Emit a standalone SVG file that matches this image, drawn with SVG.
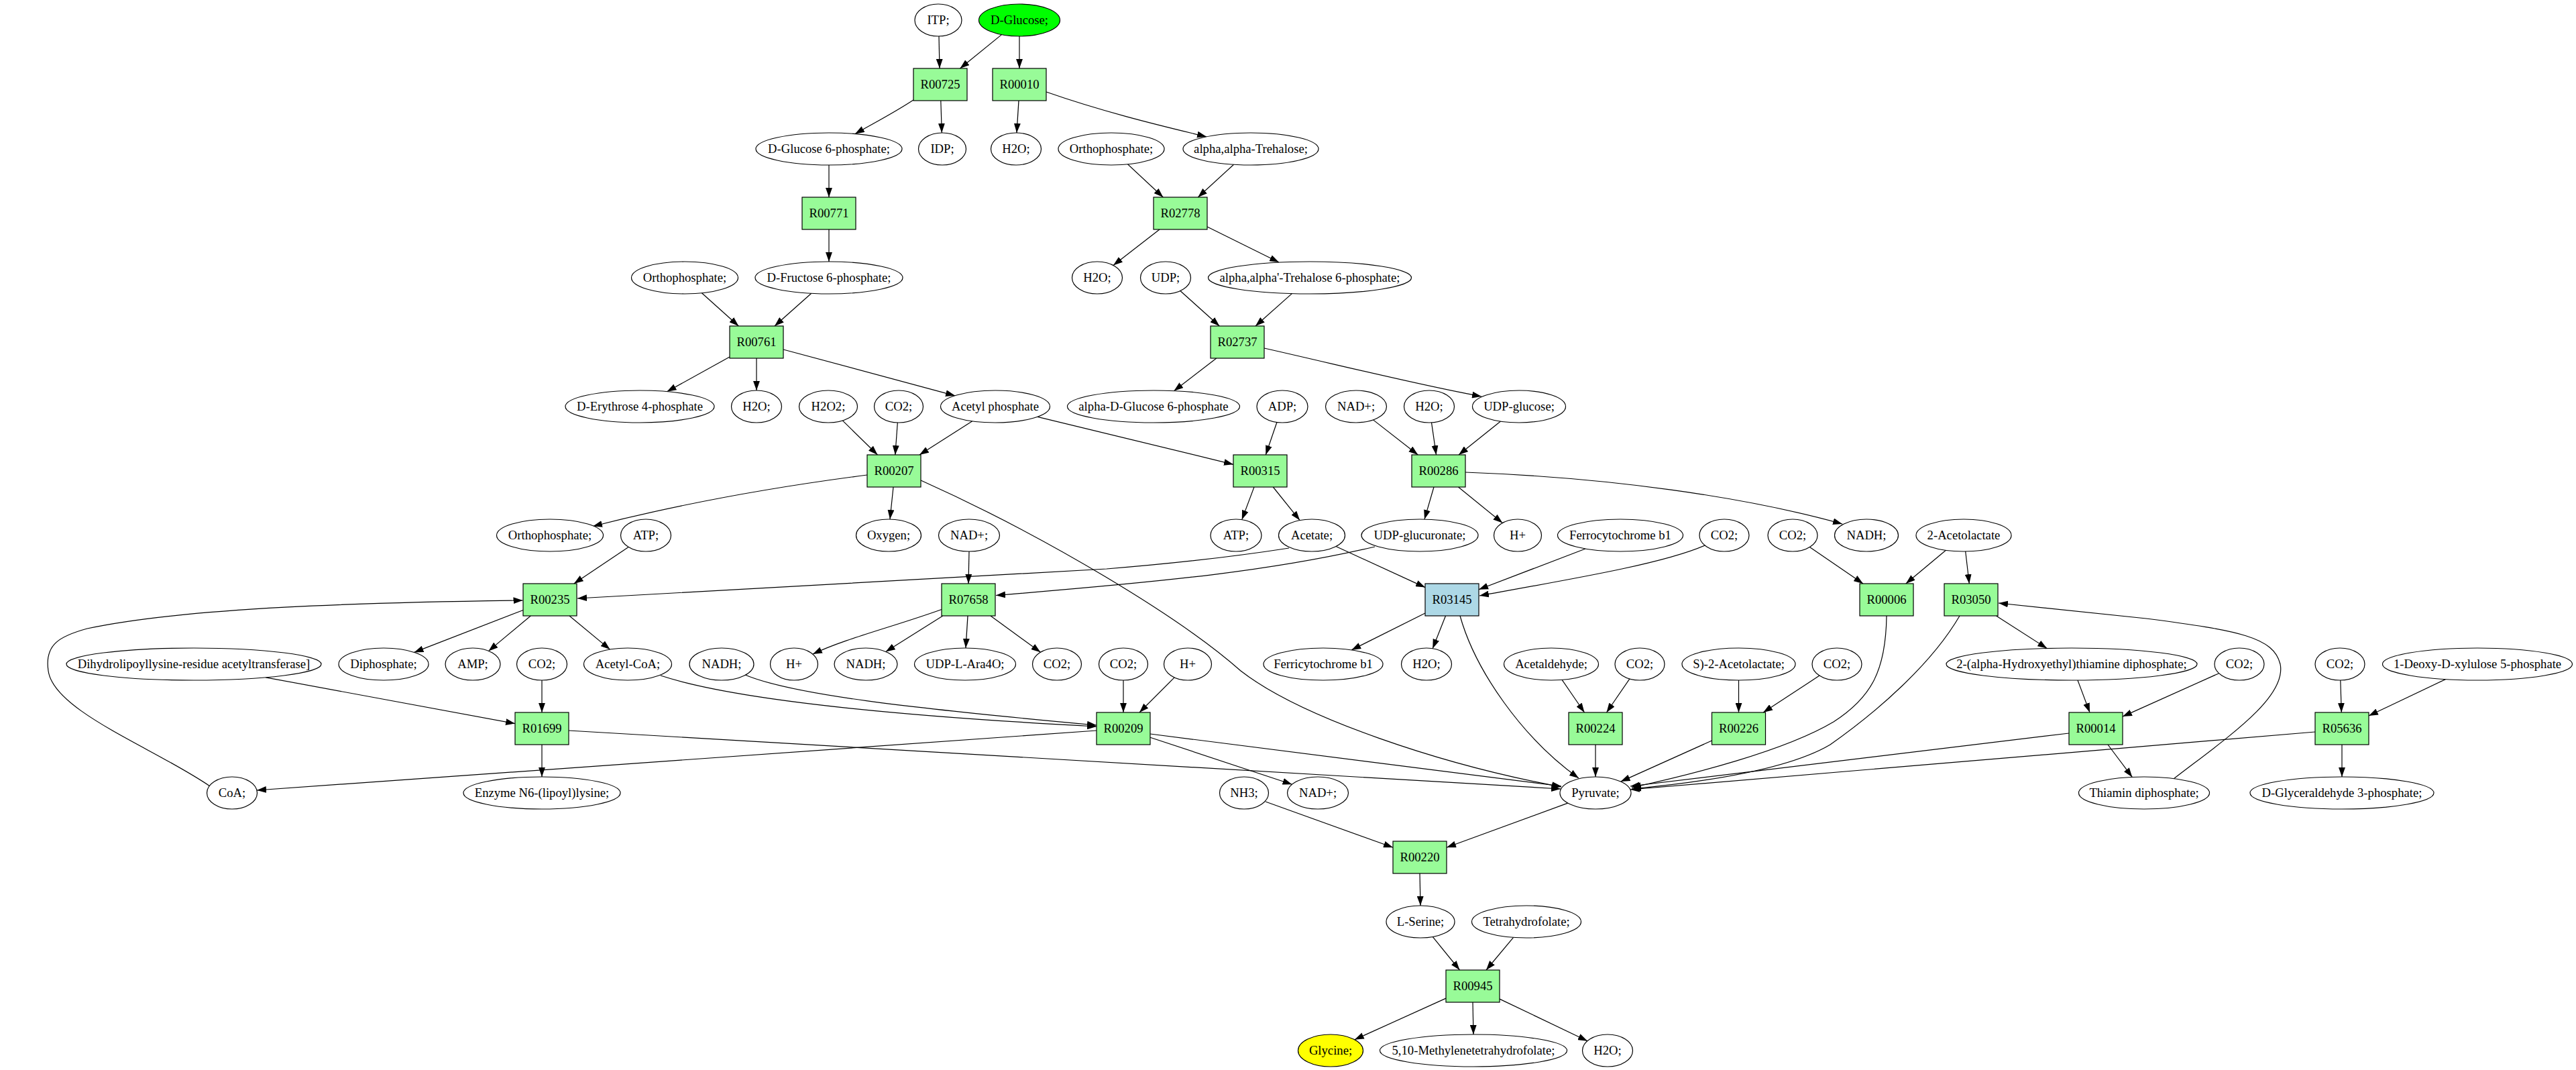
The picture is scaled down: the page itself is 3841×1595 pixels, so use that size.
<svg xmlns="http://www.w3.org/2000/svg" width="3841" height="1595" viewBox="0 0 3841 1595">
<defs>
<marker id="arr" markerUnits="userSpaceOnUse" markerWidth="14" markerHeight="10" viewBox="0 0 13.3 9.4" refX="13.3" refY="4.7" orient="auto">
<path d="M0,0 L13.3,4.7 L0,9.4 z" fill="#000"/>
</marker>
<style>
.e{fill:none;stroke:#000;stroke-width:1.2;marker-end:url(#arr)}
.nd{stroke:#000;stroke-width:1.2}
.c{fill:#fff}
.r{fill:#98fb98}
.b{fill:#add8e6}
text{font-family:"Liberation Serif","Times New Roman",serif;font-size:18.67px;text-anchor:middle;fill:#000}
</style>
</defs>
<rect x="0" y="0" width="3841" height="1595" fill="#fff" stroke="none"/>
<g id="connectors">
<path class="e" d="M1400,54 L1401,102"/>
<path class="e" d="M1493.5,51.6 L1431.5,102"/>
<path class="e" d="M1520,54 L1520,102"/>
<path class="e" d="M1362,149 C1330,170 1300,185 1275,199.6"/>
<path class="e" d="M1402.8,150 L1404.3,198"/>
<path class="e" d="M1519,150 L1516,198"/>
<path class="e" d="M1560,137 C1640,165 1720,185 1799,203.8"/>
<path class="e" d="M1236,246 L1236,294"/>
<path class="e" d="M1681.5,244.8 L1734.3,294"/>
<path class="e" d="M1839.6,245.2 L1786.3,294"/>
<path class="e" d="M1236,342 L1236,390"/>
<path class="e" d="M1729,342 L1660,395.5"/>
<path class="e" d="M1800,338 L1907,391"/>
<path class="e" d="M1046.4,436.8 L1101.3,486"/>
<path class="e" d="M1209.8,437.3 L1155,486"/>
<path class="e" d="M1759.8,433.5 L1818.3,486"/>
<path class="e" d="M1926.4,437.6 L1872,486"/>
<path class="e" d="M1088,532 L994.5,583.7"/>
<path class="e" d="M1128,534 L1128,582"/>
<path class="e" d="M1168,521 L1424,589.8"/>
<path class="e" d="M1813.8,534 L1750.4,582.7"/>
<path class="e" d="M1885,519 C2000,545 2120,575 2209,591"/>
<path class="e" d="M1256.3,626.9 L1308.5,678"/>
<path class="e" d="M1338.3,630 L1334.8,678"/>
<path class="e" d="M1449.8,627.8 L1371,678"/>
<path class="e" d="M1547,621.3 L1839,692.3"/>
<path class="e" d="M1903.9,629.5 L1887.3,678"/>
<path class="e" d="M2047.5,625.9 L2114.3,678"/>
<path class="e" d="M2134.5,629.9 L2141.5,678"/>
<path class="e" d="M2237.5,628 L2175,678"/>
<path class="e" d="M1293,708 C1200,720 1050,742 884,784.5"/>
<path class="e" d="M1332,726 L1327,774"/>
<path class="e" d="M1373,716 C1560,800 1760,920 1850,1000 C1940,1070 2150,1140 2328,1173"/>
<path class="e" d="M1870,726 L1851.8,774.6"/>
<path class="e" d="M1898.3,726 L1938.1,775.6"/>
<path class="e" d="M2138,726 L2124,774.1"/>
<path class="e" d="M2174.5,726 L2240.3,779.5"/>
<path class="e" d="M2185,704 C2400,712 2600,740 2747,781"/>
<path class="e" d="M937.1,815.4 L855.8,870"/>
<path class="e" d="M1922,817 Q1800,836 1650,848 L861,892"/>
<path class="e" d="M1992,814.5 L2125,875.6"/>
<path class="e" d="M1445,822 L1444,870"/>
<path class="e" d="M2050,815 C1900,850 1750,866 1485,887.5"/>
<path class="e" d="M2364,818 L2205,878.7"/>
<path class="e" d="M2542,813 C2480,840 2350,862 2206,888"/>
<path class="e" d="M2698.4,815.4 L2778,870"/>
<path class="e" d="M2901.4,820.2 L2841.8,870"/>
<path class="e" d="M2930.7,822 L2936.3,870"/>
<path class="e" d="M313,1172 C230,1115 80,1060 72,1000 C66,960 90,948 130,937 C280,905 550,898 779.5,895"/>
<path class="e" d="M780,909.5 L617.5,972.4"/>
<path class="e" d="M791.3,918 L728.5,970.4"/>
<path class="e" d="M849,918 L909.5,968.1"/>
<path class="e" d="M1404,908.5 C1330,935 1260,952 1212,975"/>
<path class="e" d="M1405.8,918 L1320.7,971.4"/>
<path class="e" d="M1443,918 L1440,966"/>
<path class="e" d="M1477,918 L1551.5,972.2"/>
<path class="e" d="M2125,914 L2015.2,968.9"/>
<path class="e" d="M2155.5,918 L2136.2,966.7"/>
<path class="e" d="M2177,918 C2200,1000 2270,1100 2354,1160"/>
<path class="e" d="M2813,918 C2812,1000 2790,1040 2734,1076 C2660,1120 2520,1155 2433,1174"/>
<path class="e" d="M2922,918 C2880,990 2800,1060 2729,1110 C2670,1145 2550,1165 2433,1176"/>
<path class="e" d="M2976.5,918 L3052.2,966.5"/>
<path class="e" d="M396.2,1009.8 L768,1078.6"/>
<path class="e" d="M808,1014 L808,1062"/>
<path class="e" d="M985,1007 C1100,1045 1350,1068 1635,1083"/>
<path class="e" d="M1111,1006 C1180,1035 1350,1055 1635,1081"/>
<path class="e" d="M1675,1014 L1675,1062"/>
<path class="e" d="M1751.1,1009.9 L1699,1062"/>
<path class="e" d="M2329.1,1013.4 L2362.5,1062"/>
<path class="e" d="M2429.9,1011.9 L2395.5,1062"/>
<path class="e" d="M2592.5,1014 L2592.5,1062"/>
<path class="e" d="M2713,1007.1 L2629.1,1062"/>
<path class="e" d="M3098,1014 L3116,1062"/>
<path class="e" d="M3308.6,1003.7 L3165,1068.1"/>
<path class="e" d="M3489.8,1014 L3491.3,1062"/>
<path class="e" d="M3646.4,1012.6 L3532,1067"/>
<path class="e" d="M808,1110 L808,1158"/>
<path class="e" d="M848,1089 L2327,1176"/>
<path class="e" d="M1635,1089 L383,1178"/>
<path class="e" d="M1715,1099.2 L1926.5,1169.2"/>
<path class="e" d="M1715,1094 L2328,1172"/>
<path class="e" d="M2379,1110 L2379,1158"/>
<path class="e" d="M2552.5,1104 L2416.6,1165.1"/>
<path class="e" d="M3085,1093 L2431,1172"/>
<path class="e" d="M3143,1110 L3179.3,1158.4"/>
<path class="e" d="M3241,1161 C3320,1100 3410,1040 3400,990 C3390,950 3340,940 3200,922 L2980,899"/>
<path class="e" d="M3452,1091 L2431,1177"/>
<path class="e" d="M3492,1110 L3492,1158"/>
<path class="e" d="M1887,1195 L2077,1263.3"/>
<path class="e" d="M2337.8,1197.1 L2157,1263.3"/>
<path class="e" d="M2117,1302 L2118,1350"/>
<path class="e" d="M2136.2,1396.4 L2176.5,1446"/>
<path class="e" d="M2256.6,1397.3 L2216,1446"/>
<path class="e" d="M2156,1488.1 L2019.8,1549.8"/>
<path class="e" d="M2196,1494 L2197,1542"/>
<path class="e" d="M2236,1489.1 L2367,1551.7"/>
</g>
<g id="c_itp"><ellipse class="nd c" cx="1399" cy="30" rx="35" ry="24"/><text x="1399" y="36">ITP;</text></g>
<g id="c_dglucose"><ellipse class="nd" cx="1520" cy="30" rx="60.5" ry="24" fill="#00ff00"/><text x="1520" y="36">D-Glucose;</text></g>
<g id="r_R00725"><rect class="nd r" x="1362" y="102" width="80" height="48"/><text x="1402" y="132">R00725</text></g>
<g id="r_R00010"><rect class="nd r" x="1480" y="102" width="80" height="48"/><text x="1520" y="132">R00010</text></g>
<g id="c_dglc6p"><ellipse class="nd c" cx="1236" cy="222" rx="109" ry="24"/><text x="1236" y="228">D-Glucose 6-phosphate;</text></g>
<g id="c_idp"><ellipse class="nd c" cx="1405" cy="222" rx="35.5" ry="24"/><text x="1405" y="228">IDP;</text></g>
<g id="c_h2o_1"><ellipse class="nd c" cx="1515" cy="222" rx="37.5" ry="24"/><text x="1515" y="228">H2O;</text></g>
<g id="c_orthop_1"><ellipse class="nd c" cx="1657" cy="222" rx="79" ry="24"/><text x="1657" y="228">Orthophosphate;</text></g>
<g id="c_trehalose"><ellipse class="nd c" cx="1865" cy="222" rx="101" ry="24"/><text x="1865" y="228">alpha,alpha-Trehalose;</text></g>
<g id="r_R00771"><rect class="nd r" x="1196" y="294" width="80" height="48"/><text x="1236" y="324">R00771</text></g>
<g id="r_R02778"><rect class="nd r" x="1720" y="294" width="80" height="48"/><text x="1760" y="324">R02778</text></g>
<g id="c_orthop_2"><ellipse class="nd c" cx="1021" cy="414" rx="79.5" ry="24"/><text x="1021" y="420">Orthophosphate;</text></g>
<g id="c_dfru6p"><ellipse class="nd c" cx="1236" cy="414" rx="110" ry="24"/><text x="1236" y="420">D-Fructose 6-phosphate;</text></g>
<g id="c_h2o_2"><ellipse class="nd c" cx="1636" cy="414" rx="37.5" ry="24"/><text x="1636" y="420">H2O;</text></g>
<g id="c_udp"><ellipse class="nd c" cx="1738" cy="414" rx="37.5" ry="24"/><text x="1738" y="420">UDP;</text></g>
<g id="c_trehalose6p"><ellipse class="nd c" cx="1953" cy="414" rx="151.5" ry="24"/><text x="1953" y="420">alpha,alpha'-Trehalose 6-phosphate;</text></g>
<g id="r_R00761"><rect class="nd r" x="1088" y="486" width="80" height="48"/><text x="1128" y="516">R00761</text></g>
<g id="r_R02737"><rect class="nd r" x="1805" y="486" width="80" height="48"/><text x="1845" y="516">R02737</text></g>
<g id="c_derythrose4p"><ellipse class="nd c" cx="954" cy="606" rx="111" ry="24"/><text x="954" y="612">D-Erythrose 4-phosphate</text></g>
<g id="c_h2o_3"><ellipse class="nd c" cx="1128" cy="606" rx="37.5" ry="24"/><text x="1128" y="612">H2O;</text></g>
<g id="c_h2o2"><ellipse class="nd c" cx="1235" cy="606" rx="43.5" ry="24"/><text x="1235" y="612">H2O2;</text></g>
<g id="c_co2_1"><ellipse class="nd c" cx="1340" cy="606" rx="36.5" ry="24"/><text x="1340" y="612">CO2;</text></g>
<g id="c_acetylp"><ellipse class="nd c" cx="1484" cy="606" rx="81.5" ry="24"/><text x="1484" y="612">Acetyl phosphate</text></g>
<g id="c_adglc6p"><ellipse class="nd c" cx="1720" cy="606" rx="128.5" ry="24"/><text x="1720" y="612">alpha-D-Glucose 6-phosphate</text></g>
<g id="c_adp"><ellipse class="nd c" cx="1912" cy="606" rx="38" ry="24"/><text x="1912" y="612">ADP;</text></g>
<g id="c_nad_1"><ellipse class="nd c" cx="2022" cy="606" rx="45.5" ry="24"/><text x="2022" y="612">NAD+;</text></g>
<g id="c_h2o_4"><ellipse class="nd c" cx="2131" cy="606" rx="37.5" ry="24"/><text x="2131" y="612">H2O;</text></g>
<g id="c_udpglucose"><ellipse class="nd c" cx="2265" cy="606" rx="69.5" ry="24"/><text x="2265" y="612">UDP-glucose;</text></g>
<g id="r_R00207"><rect class="nd r" x="1293" y="678" width="80" height="48"/><text x="1333" y="708">R00207</text></g>
<g id="r_R00315"><rect class="nd r" x="1839" y="678" width="80" height="48"/><text x="1879" y="708">R00315</text></g>
<g id="r_R00286"><rect class="nd r" x="2105" y="678" width="80" height="48"/><text x="2145" y="708">R00286</text></g>
<g id="c_orthop_3"><ellipse class="nd c" cx="820" cy="798" rx="79.5" ry="24"/><text x="820" y="804">Orthophosphate;</text></g>
<g id="c_atp_1"><ellipse class="nd c" cx="963" cy="798" rx="37.5" ry="24"/><text x="963" y="804">ATP;</text></g>
<g id="c_oxygen"><ellipse class="nd c" cx="1325" cy="798" rx="48.5" ry="24"/><text x="1325" y="804">Oxygen;</text></g>
<g id="c_nad_2"><ellipse class="nd c" cx="1445" cy="798" rx="45.5" ry="24"/><text x="1445" y="804">NAD+;</text></g>
<g id="c_atp_2"><ellipse class="nd c" cx="1843" cy="798" rx="38" ry="24"/><text x="1843" y="804">ATP;</text></g>
<g id="c_acetate"><ellipse class="nd c" cx="1956" cy="798" rx="49.5" ry="24"/><text x="1956" y="804">Acetate;</text></g>
<g id="c_udpglucuronate"><ellipse class="nd c" cx="2117" cy="798" rx="87" ry="24"/><text x="2117" y="804">UDP-glucuronate;</text></g>
<g id="c_hplus_1"><ellipse class="nd c" cx="2263" cy="798" rx="35.5" ry="24"/><text x="2263" y="804">H+</text></g>
<g id="c_ferrocyt"><ellipse class="nd c" cx="2416" cy="798" rx="93.5" ry="24"/><text x="2416" y="804">Ferrocytochrome b1</text></g>
<g id="c_co2_2"><ellipse class="nd c" cx="2571" cy="798" rx="37" ry="24"/><text x="2571" y="804">CO2;</text></g>
<g id="c_co2_3"><ellipse class="nd c" cx="2673" cy="798" rx="37" ry="24"/><text x="2673" y="804">CO2;</text></g>
<g id="c_nadh_1"><ellipse class="nd c" cx="2783" cy="798" rx="47.5" ry="24"/><text x="2783" y="804">NADH;</text></g>
<g id="c_acetolactate"><ellipse class="nd c" cx="2928" cy="798" rx="71" ry="24"/><text x="2928" y="804">2-Acetolactate</text></g>
<g id="r_R00235"><rect class="nd r" x="780" y="870" width="80" height="48"/><text x="820" y="900">R00235</text></g>
<g id="r_R07658"><rect class="nd r" x="1404" y="870" width="80" height="48"/><text x="1444" y="900">R07658</text></g>
<g id="r_R03145"><rect class="nd b" x="2125" y="870" width="80" height="48"/><text x="2165" y="900">R03145</text></g>
<g id="r_R00006"><rect class="nd r" x="2773" y="870" width="80" height="48"/><text x="2813" y="900">R00006</text></g>
<g id="r_R03050"><rect class="nd r" x="2899" y="870" width="80" height="48"/><text x="2939" y="900">R03050</text></g>
<g id="c_dihydro"><ellipse class="nd c" cx="289" cy="990" rx="190" ry="24"/><text x="289" y="996">Dihydrolipoyllysine-residue acetyltransferase]</text></g>
<g id="c_diphosphate"><ellipse class="nd c" cx="572" cy="990" rx="67" ry="24"/><text x="572" y="996">Diphosphate;</text></g>
<g id="c_amp"><ellipse class="nd c" cx="705" cy="990" rx="41" ry="24"/><text x="705" y="996">AMP;</text></g>
<g id="c_co2_4"><ellipse class="nd c" cx="808" cy="990" rx="37.5" ry="24"/><text x="808" y="996">CO2;</text></g>
<g id="c_acetylcoa"><ellipse class="nd c" cx="936" cy="990" rx="65.5" ry="24"/><text x="936" y="996">Acetyl-CoA;</text></g>
<g id="c_nadh_2"><ellipse class="nd c" cx="1076" cy="990" rx="48" ry="24"/><text x="1076" y="996">NADH;</text></g>
<g id="c_hplus_2"><ellipse class="nd c" cx="1184" cy="990" rx="35.5" ry="24"/><text x="1184" y="996">H+</text></g>
<g id="c_nadh_3"><ellipse class="nd c" cx="1291" cy="990" rx="47" ry="24"/><text x="1291" y="996">NADH;</text></g>
<g id="c_udplara4o"><ellipse class="nd c" cx="1439" cy="990" rx="75.5" ry="24"/><text x="1439" y="996">UDP-L-Ara4O;</text></g>
<g id="c_co2_5"><ellipse class="nd c" cx="1576" cy="990" rx="36.5" ry="24"/><text x="1576" y="996">CO2;</text></g>
<g id="c_co2_6"><ellipse class="nd c" cx="1675" cy="990" rx="36.5" ry="24"/><text x="1675" y="996">CO2;</text></g>
<g id="c_hplus_3"><ellipse class="nd c" cx="1771" cy="990" rx="35.5" ry="24"/><text x="1771" y="996">H+</text></g>
<g id="c_ferricyt"><ellipse class="nd c" cx="1973" cy="990" rx="89" ry="24"/><text x="1973" y="996">Ferricytochrome b1</text></g>
<g id="c_h2o_5"><ellipse class="nd c" cx="2127" cy="990" rx="37.5" ry="24"/><text x="2127" y="996">H2O;</text></g>
<g id="c_acetaldehyde"><ellipse class="nd c" cx="2313" cy="990" rx="70.5" ry="24"/><text x="2313" y="996">Acetaldehyde;</text></g>
<g id="c_co2_7"><ellipse class="nd c" cx="2445" cy="990" rx="37" ry="24"/><text x="2445" y="996">CO2;</text></g>
<g id="c_sacetolactate"><ellipse class="nd c" cx="2592.5" cy="990" rx="84.5" ry="24"/><text x="2592.5" y="996">S)-2-Acetolactate;</text></g>
<g id="c_co2_8"><ellipse class="nd c" cx="2739" cy="990" rx="37" ry="24"/><text x="2739" y="996">CO2;</text></g>
<g id="c_hethtpp"><ellipse class="nd c" cx="3089" cy="990" rx="187" ry="24"/><text x="3089" y="996">2-(alpha-Hydroxyethyl)thiamine diphosphate;</text></g>
<g id="c_co2_9"><ellipse class="nd c" cx="3339" cy="990" rx="37" ry="24"/><text x="3339" y="996">CO2;</text></g>
<g id="c_co2_10"><ellipse class="nd c" cx="3489" cy="990" rx="37" ry="24"/><text x="3489" y="996">CO2;</text></g>
<g id="c_dxp"><ellipse class="nd c" cx="3694" cy="990" rx="141.5" ry="24"/><text x="3694" y="996">1-Deoxy-D-xylulose 5-phosphate</text></g>
<g id="r_R01699"><rect class="nd r" x="768" y="1062" width="80" height="48"/><text x="808" y="1092">R01699</text></g>
<g id="r_R00209"><rect class="nd r" x="1635" y="1062" width="80" height="48"/><text x="1675" y="1092">R00209</text></g>
<g id="r_R00224"><rect class="nd r" x="2339" y="1062" width="80" height="48"/><text x="2379" y="1092">R00224</text></g>
<g id="r_R00226"><rect class="nd r" x="2552.5" y="1062" width="80" height="48"/><text x="2592.5" y="1092">R00226</text></g>
<g id="r_R00014"><rect class="nd r" x="3085" y="1062" width="80" height="48"/><text x="3125" y="1092">R00014</text></g>
<g id="r_R05636"><rect class="nd r" x="3452" y="1062" width="80" height="48"/><text x="3492" y="1092">R05636</text></g>
<g id="c_coa"><ellipse class="nd c" cx="346" cy="1182" rx="37.5" ry="24"/><text x="346" y="1188">CoA;</text></g>
<g id="c_lipoyllysine"><ellipse class="nd c" cx="808" cy="1182" rx="117" ry="24"/><text x="808" y="1188">Enzyme N6-(lipoyl)lysine;</text></g>
<g id="c_nh3"><ellipse class="nd c" cx="1855" cy="1182" rx="36.5" ry="24"/><text x="1855" y="1188">NH3;</text></g>
<g id="c_nad_3"><ellipse class="nd c" cx="1965" cy="1182" rx="45.5" ry="24"/><text x="1965" y="1188">NAD+;</text></g>
<g id="c_pyruvate"><ellipse class="nd c" cx="2379" cy="1182" rx="53" ry="24"/><text x="2379" y="1188">Pyruvate;</text></g>
<g id="c_thiamin"><ellipse class="nd c" cx="3197" cy="1182" rx="97.5" ry="24"/><text x="3197" y="1188">Thiamin diphosphate;</text></g>
<g id="c_gap"><ellipse class="nd c" cx="3492" cy="1182" rx="137" ry="24"/><text x="3492" y="1188">D-Glyceraldehyde 3-phosphate;</text></g>
<g id="r_R00220"><rect class="nd r" x="2077" y="1254" width="80" height="48"/><text x="2117" y="1284">R00220</text></g>
<g id="c_serine"><ellipse class="nd c" cx="2118" cy="1374" rx="51" ry="24"/><text x="2118" y="1380">L-Serine;</text></g>
<g id="c_thf"><ellipse class="nd c" cx="2276" cy="1374" rx="81.5" ry="24"/><text x="2276" y="1380">Tetrahydrofolate;</text></g>
<g id="r_R00945"><rect class="nd r" x="2156" y="1446" width="80" height="48"/><text x="2196" y="1476">R00945</text></g>
<g id="c_glycine"><ellipse class="nd" cx="1984" cy="1566" rx="48.5" ry="24" fill="#ffff00"/><text x="1984" y="1572">Glycine;</text></g>
<g id="c_methylenethf"><ellipse class="nd c" cx="2197" cy="1566" rx="139.5" ry="24"/><text x="2197" y="1572">5,10-Methylenetetrahydrofolate;</text></g>
<g id="c_h2o_6"><ellipse class="nd c" cx="2397" cy="1566" rx="37.5" ry="24"/><text x="2397" y="1572">H2O;</text></g>
</svg>
